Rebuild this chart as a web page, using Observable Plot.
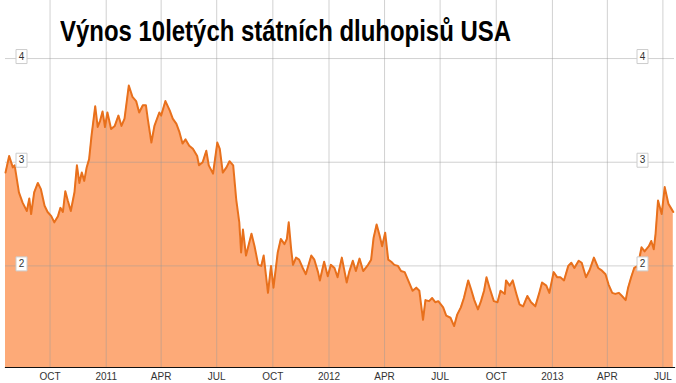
<!DOCTYPE html>
<html>
<head>
<meta charset="utf-8">
<script src="https://cdn.jsdelivr.net/npm/d3@7"></script>
<script src="https://cdn.jsdelivr.net/npm/@observablehq/plot@0.6"></script>
<style>
  html, body { margin: 0; padding: 0; background: #fff; }
  #wrap { position: relative; width: 676px; height: 383px; overflow: hidden; }
  #title { position: absolute; left: 60px; top: 16.5px; font: bold 29px "Liberation Sans", Arial, sans-serif; line-height: 1; color: #000; white-space: nowrap; transform-origin: 0 0; }
  svg { display: block; }
</style>
</head>
<body>
<div id="wrap">
  <div id="chart"></div>
  <div id="title">Výnos 10letých státních dluhopisů USA</div>
</div>
<script>
const dates = ["2010-07-20","2010-07-26","2010-08-01","2010-08-04","2010-08-11","2010-08-17","2010-08-24","2010-08-28","2010-08-31","2010-09-05","2010-09-11","2010-09-16","2010-09-22","2010-09-27","2010-10-03","2010-10-08","2010-10-14","2010-10-18","2010-10-22","2010-10-26","2010-10-30","2010-11-04","2010-11-10","2010-11-14","2010-11-18","2010-11-22","2010-11-26","2010-11-30","2010-12-04","2010-12-08","2010-12-14","2010-12-18","2010-12-22","2010-12-26","2010-12-30","2011-01-03","2011-01-09","2011-01-15","2011-01-21","2011-01-26","2011-01-31","2011-02-07","2011-02-13","2011-02-19","2011-02-24","2011-03-02","2011-03-07","2011-03-10","2011-03-16","2011-03-21","2011-03-29","2011-04-01","2011-04-08","2011-04-15","2011-04-20","2011-04-26","2011-05-01","2011-05-06","2011-05-11","2011-05-17","2011-05-23","2011-05-30","2011-06-02","2011-06-08","2011-06-14","2011-06-18","2011-06-25","2011-07-02","2011-07-06","2011-07-11","2011-07-17","2011-07-22","2011-07-28","2011-08-02","2011-08-07","2011-08-10","2011-08-13","2011-08-18","2011-08-27","2011-09-01","2011-09-07","2011-09-12","2011-09-16","2011-09-23","2011-09-28","2011-10-02","2011-10-09","2011-10-14","2011-10-20","2011-10-24","2011-10-27","2011-10-31","2011-11-03","2011-11-08","2011-11-13","2011-11-19","2011-11-24","2011-12-03","2011-12-08","2011-12-14","2011-12-17","2011-12-24","2011-12-30","2012-01-04","2012-01-10","2012-01-15","2012-01-22","2012-01-30","2012-02-03","2012-02-09","2012-02-14","2012-02-20","2012-02-26","2012-03-05","2012-03-10","2012-03-14","2012-03-19","2012-03-24","2012-03-28","2012-04-02","2012-04-07","2012-04-12","2012-04-17","2012-04-23","2012-04-28","2012-05-04","2012-05-09","2012-05-17","2012-05-23","2012-05-28","2012-06-03","2012-06-07","2012-06-13","2012-06-18","2012-06-23","2012-06-28","2012-07-06","2012-07-11","2012-07-18","2012-07-24","2012-07-29","2012-08-04","2012-08-09","2012-08-16","2012-08-21","2012-08-26","2012-09-01","2012-09-06","2012-09-11","2012-09-15","2012-09-20","2012-09-27","2012-10-03","2012-10-08","2012-10-15","2012-10-17","2012-10-23","2012-10-28","2012-11-03","2012-11-08","2012-11-14","2012-11-21","2012-11-27","2012-12-04","2012-12-10","2012-12-15","2012-12-22","2012-12-27","2013-01-03","2013-01-09","2013-01-14","2013-01-20","2013-01-27","2013-02-01","2013-02-06","2013-02-13","2013-02-18","2013-02-25","2013-03-03","2013-03-10","2013-03-17","2013-03-22","2013-03-29","2013-04-03","2013-04-09","2013-04-14","2013-04-20","2013-04-25","2013-05-01","2013-05-05","2013-05-10","2013-05-15","2013-05-21","2013-05-27","2013-06-01","2013-06-08","2013-06-12","2013-06-16","2013-06-19","2013-06-23","2013-06-29","2013-07-04","2013-07-10","2013-07-15","2013-07-18"];

const yields = [2.90,3.06,2.95,2.97,2.71,2.61,2.53,2.65,2.50,2.71,2.80,2.74,2.58,2.52,2.48,2.42,2.48,2.56,2.52,2.72,2.63,2.53,2.71,2.97,2.80,2.90,2.82,2.95,3.03,3.26,3.54,3.34,3.40,3.49,3.34,3.48,3.32,3.35,3.45,3.35,3.42,3.74,3.63,3.59,3.48,3.55,3.55,3.42,3.19,3.35,3.48,3.45,3.59,3.50,3.42,3.37,3.29,3.18,3.22,3.16,3.13,3.06,2.97,3.00,3.11,2.97,2.89,3.19,3.13,2.90,2.95,3.01,2.97,2.64,2.42,2.13,2.35,2.10,2.31,2.19,2.01,2.00,2.10,1.74,2.00,1.79,2.13,2.26,2.21,2.26,2.42,2.16,2.01,2.08,2.06,1.98,1.92,2.10,2.06,1.94,1.86,2.04,1.90,2.01,1.98,1.89,2.08,1.84,1.94,2.05,1.95,2.07,1.95,2.01,2.06,2.27,2.40,2.29,2.19,2.32,2.06,2.04,2.01,2.00,1.95,1.94,1.87,1.76,1.79,1.76,1.48,1.67,1.66,1.69,1.65,1.66,1.60,1.52,1.50,1.42,1.53,1.60,1.69,1.86,1.77,1.67,1.58,1.66,1.76,1.89,1.79,1.66,1.65,1.76,1.73,1.86,1.81,1.86,1.73,1.63,1.61,1.71,1.65,1.61,1.73,1.84,1.81,1.74,1.94,1.89,1.89,1.86,2.00,2.03,1.98,2.05,2.03,1.89,1.96,2.08,1.98,1.96,1.92,1.82,1.74,1.73,1.74,1.71,1.67,1.79,1.89,1.98,2.00,2.18,2.14,2.19,2.24,2.16,2.31,2.63,2.50,2.76,2.60,2.55,2.52];

const tickDates = ["2010-10-01","2011-01-01","2011-04-01","2011-07-01","2011-10-01","2012-01-01","2012-04-01","2012-07-01","2012-10-01","2013-01-01","2013-04-01","2013-07-01"];
const tickLabels = ["OCT","2011","APR","JUL","OCT","2012","APR","JUL","OCT","2013","APR","JUL"];
const yTicks = [2, 3, 4];

const data = dates.map((d, i) => ({date: d3.isoParse(d), value: yields[i]}));
const xTicks = tickDates.map((d, i) => ({date: d3.isoParse(d), label: tickLabels[i]}));

const boxSymbol = { draw(ctx) { ctx.rect(-5.5, -7, 11, 14); } };

const chart = Plot.plot({
  width: 676,
  height: 383,
  marginTop: 0,
  marginBottom: 16,
  marginLeft: 5,
  marginRight: 2,
  style: { fontFamily: "'Liberation Sans', Arial, sans-serif", fontSize: "10px", background: "#fff" },
  x: { type: "utc", domain: [d3.isoParse("2010-07-20"), d3.isoParse("2013-07-20")], axis: null },
  y: { domain: [1.02, 4.56], axis: null },
  marks: [
    Plot.areaY(data, { x: "date", y: "value", fill: "#FDAA78", clip: true }),
    Plot.ruleY(yTicks, { stroke: "#999", strokeOpacity: 0.45, strokeWidth: 1 }),
    Plot.ruleX(xTicks, { x: "date", stroke: "#999", strokeOpacity: 0.45, strokeWidth: 1 }),
    Plot.lineY(data, { x: "date", y: "value", stroke: "#E8701C", strokeWidth: 2, strokeLinejoin: "round" }),
    Plot.frame({ anchor: "bottom", stroke: "#111", strokeWidth: 1.2 }),
    Plot.text(xTicks, { x: "date", text: "label", frameAnchor: "bottom", lineAnchor: "top", dy: 5, fill: "#333", fontSize: 10 }),
    Plot.dot(yTicks, { y: d => d, frameAnchor: "left", dx: 16, dy: -2, symbol: boxSymbol, fill: "#fff", stroke: "#ccc", strokeWidth: 1 }),
    Plot.dot(yTicks, { y: d => d, frameAnchor: "right", dx: -32, dy: -2, symbol: boxSymbol, fill: "#fff", stroke: "#ccc", strokeWidth: 1 }),
    Plot.text(yTicks, { y: d => d, text: d => String(d), frameAnchor: "left", dx: 16, dy: -2, textAnchor: "middle", fill: "#333", fontSize: 10 }),
    Plot.text(yTicks, { y: d => d, text: d => String(d), frameAnchor: "right", dx: -32, dy: -2, textAnchor: "middle", fill: "#333", fontSize: 10 })
  ]
});
document.getElementById("chart").appendChild(chart);

const title = document.getElementById("title");
const w = title.getBoundingClientRect().width;
if (w > 0) title.style.transform = `scaleX(${451 / w})`;
</script>
</body>
</html>
